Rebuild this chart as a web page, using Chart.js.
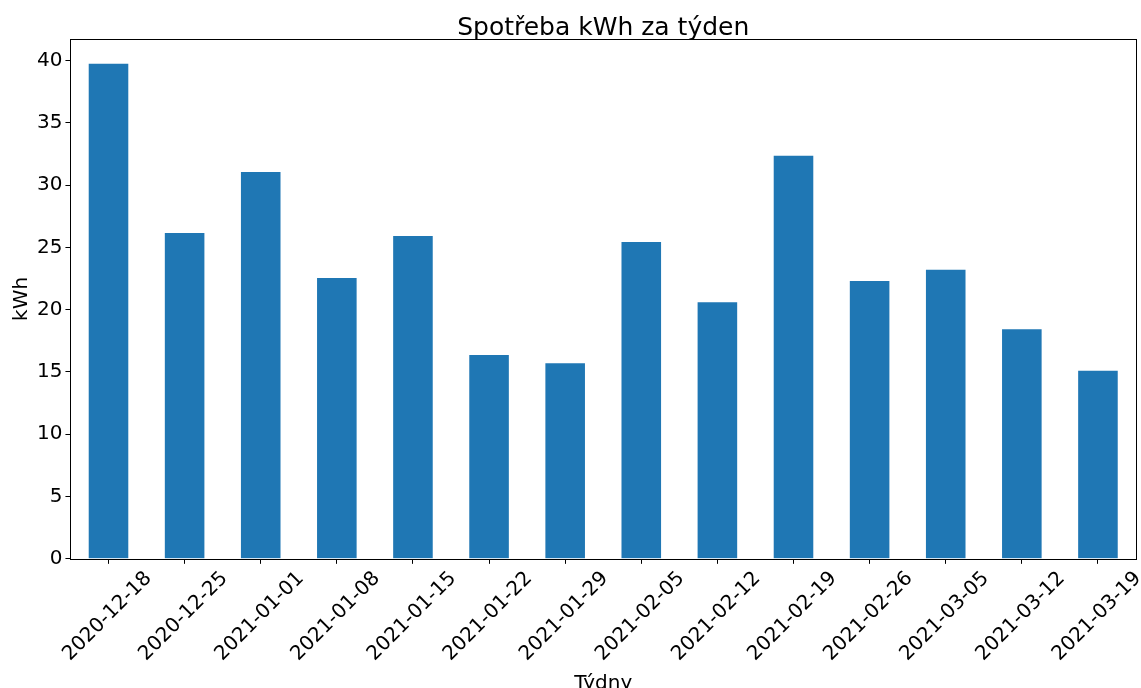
<!DOCTYPE html>
<html>
<head>
<meta charset="utf-8">
<script src="https://cdn.jsdelivr.net/npm/chart.js@4"></script>
<style>
  html, body { margin: 0; padding: 0; background: #fff; overflow: hidden; }
  #wrap { width: 1141px; height: 696px; }
</style>
</head>
<body>
<div id="wrap"><canvas id="chart" width="1141" height="696"></canvas></div>
<script>
/* --- Data --- */
const weeks = [
  '2020-12-18', '2020-12-25', '2021-01-01', '2021-01-08', '2021-01-15',
  '2021-01-22', '2021-01-29', '2021-02-05', '2021-02-12', '2021-02-19',
  '2021-02-26', '2021-03-05', '2021-03-12', '2021-03-19'
];
const kwh = [
  39.73, 26.15, 31.05, 22.53, 25.9,
  16.35, 15.7, 25.43, 20.6, 32.35,
  22.3, 23.2, 18.43, 15.1
];
const yMax = 41.72;
const yStep = 5;
const chartTitle = 'Spotřeba kWh za týden';

const FONT = "'DejaVu Sans', sans-serif";

/* --- Frame round the plot area + title centred over it (matplotlib style) --- */
const framePlugin = {
  id: 'frame',
  afterDraw(chart) {
    const a = chart.chartArea;
    const ctx = chart.ctx;
    ctx.save();
    ctx.strokeStyle = '#000';
    ctx.lineWidth = 1;
    ctx.strokeRect(Math.round(a.left) + 0.5, Math.round(a.top) + 0.5,
      Math.round(a.right - a.left), Math.round(a.bottom - a.top));

    ctx.fillStyle = '#000';
    ctx.font = '25px ' + FONT;
    ctx.textAlign = 'center';
    ctx.textBaseline = 'alphabetic';
    ctx.fillText(chartTitle, (a.left + a.right) / 2, a.top - 4);
    ctx.restore();
  }
};

new Chart(document.getElementById('chart'), {
  type: 'bar',
  data: {
    labels: weeks,
    datasets: [{
      data: kwh,
      backgroundColor: '#1f77b4',
      borderWidth: 0,
      categoryPercentage: 1.0,
      barPercentage: 0.52
    }]
  },
  options: {
    responsive: false,
    animation: false,
    layout: { padding: { left: 10, right: 5, top: 39, bottom: 0 } },
    plugins: {
      legend: { display: false },
      tooltip: { enabled: false },
      title: { display: false }
    },
    scales: {
      x: {
        offset: true,
        grid: {
          display: true,
          offset: false,
          drawOnChartArea: false,
          drawTicks: true,
          tickLength: 5,
          color: '#000'
        },
        border: { display: false },
        ticks: {
          autoSkip: false,
          maxRotation: 45,
          minRotation: 45,
          labelOffset: 40,
          padding: 3,
          color: '#000',
          font: { family: FONT, size: 20 }
        },
        title: {
          display: true,
          text: 'Týdny',
          color: '#000',
          font: { family: FONT, size: 20 },
          padding: { top: 3, bottom: 0 }
        }
      },
      y: {
        min: 0,
        max: yMax,
        grid: {
          display: true,
          drawOnChartArea: false,
          drawTicks: true,
          tickLength: 5,
          color: '#000'
        },
        border: { display: false },
        ticks: {
          stepSize: yStep,
          includeBounds: false,
          padding: 3,
          color: '#000',
          font: { family: FONT, size: 20 }
        },
        title: {
          display: true,
          text: 'kWh',
          color: '#000',
          font: { family: FONT, size: 20 },
          padding: { top: 0, bottom: 0 }
        }
      }
    }
  },
  plugins: [framePlugin]
});
</script>
</body>
</html>
